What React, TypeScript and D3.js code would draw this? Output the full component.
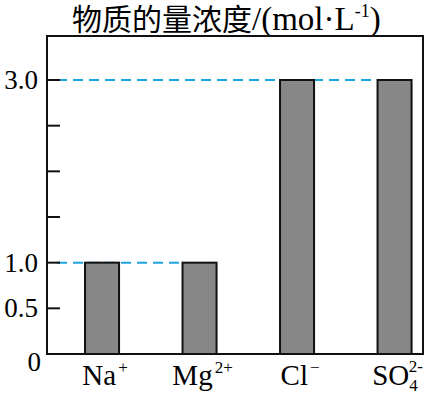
import React from 'react';
import * as d3 from 'd3';

// ions on the x axis, drawn as base + subscript + superscript
const ionBase = ['Na', 'Mg', 'Cl', 'SO'];
const ionSub = ['', '', '', '4'];
const ionSup = ['+', '2+', '\u2212', '2-'];
const concentrations = [1.0, 1.0, 3.0, 3.0];

const yTicks = [0.5, 1.0, 1.5, 2.0, 2.5, 3.0];
const yTickLabels = ['0', '0.5', '1.0', '3.0'];
const guideValues = [1.0, 3.0];

const W = 429;
const H = 394;
const frame = { left: 47, right: 423, top: 36, bottom: 354 };
const serif = '"Liberation Serif", "Times New Roman", "Noto Sans CJK SC", serif';

export default function App() {
  const x = d3.scaleBand<string>()
    .domain(ionBase)
    .range([47, 449.6])
    .paddingInner(0.651)
    .paddingOuter(0.39);

  const y = d3.scaleLinear().domain([0, 3]).range([frame.bottom, 80]);

  return (
    <svg width={W} height={H} style={{ position: 'absolute', left: 0, top: 0 }}>
      <rect width={W} height={H} fill="#fff" />

      {/* title */}
      <text x={72} y={30} fontFamily={serif} fontSize={30} fill="#000">
        物质的量浓度
        <tspan fontSize={33}>/(mol·L</tspan>
        <tspan fontSize={18} dy={-13}>-1</tspan>
        <tspan fontSize={33} dy={13}>)</tspan>
      </text>

      {/* dashed guides, from the axis to the last bar of that height */}
      {guideValues.map(v => {
        const last = ionBase.filter((_, i) => concentrations[i] === v).pop()!;
        return (
          <line key={v} x1={frame.left + 10} x2={x(last)!} y1={y(v)} y2={y(v)}
            stroke="#1ea5e0" strokeWidth={2} strokeDasharray="10,6" />
        );
      })}

      {/* bars */}
      {ionBase.map((k, i) => (
        <rect key={k} x={x(k)} y={y(concentrations[i])} width={x.bandwidth()}
          height={y(0) - y(concentrations[i])}
          fill="#878787" stroke="#111" strokeWidth={2} />
      ))}

      {/* frame */}
      <rect x={frame.left} y={frame.top} width={frame.right - frame.left}
        height={frame.bottom - frame.top} fill="none" stroke="#111" strokeWidth={2} />

      {/* y ticks, pointing inward */}
      {yTicks.map(t => (
        <line key={t} x1={frame.left} x2={frame.left + 13} y1={y(t)} y2={y(t)}
          stroke="#111" strokeWidth={2} />
      ))}
      {yTickLabels.map(t => (
        <text key={t} x={t === '0' ? 41 : 38} y={y(+t) + (t === '0' ? 17 : 9)}
          textAnchor="end" fontFamily={serif} fontSize={27} fill="#000">{t}</text>
      ))}

      {/* x labels */}
      {ionBase.map((k, i) => (
        <text key={k} x={x(k)! + x.bandwidth() / 2 + 3} y={385} textAnchor="middle"
          fontFamily={serif} fontSize={29} fill="#000">
          {k}
          {ionSub[i] && <tspan fontSize={17} dy={6}>{ionSub[i]}</tspan>}
          {ionSup[i] && (
            <tspan fontSize={17} dx={ionSub[i] ? -9 : 2} dy={ionSub[i] ? -19 : -12}>{ionSup[i]}</tspan>
          )}
        </text>
      ))}
    </svg>
  );
}
